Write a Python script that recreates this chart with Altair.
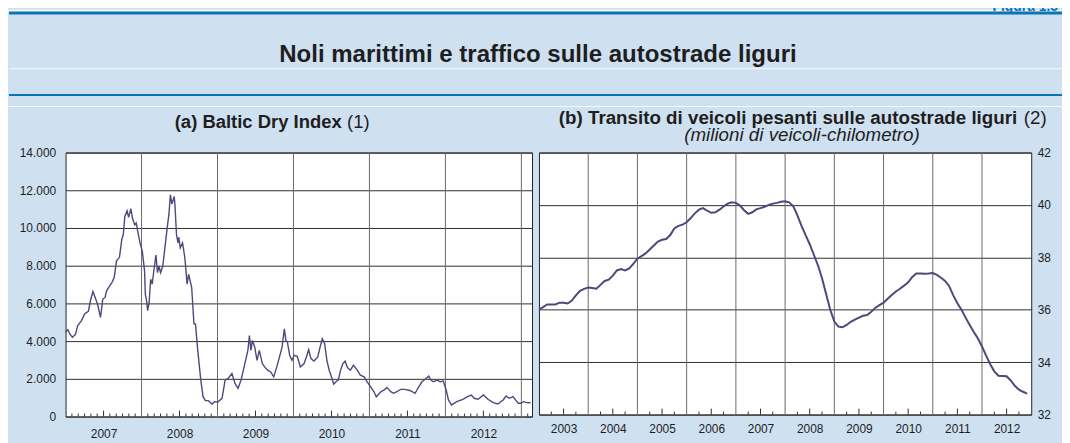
import altair as alt
import pandas as pd

# ---------------- data ----------------
# (a) Baltic Dry Index, decimal years and index values
bdi_time = [2007.00, 2007.03, 2007.06, 2007.09, 2007.13, 2007.16, 2007.21, 2007.25, 2007.30, 2007.33,
            2007.36, 2007.39, 2007.42, 2007.46, 2007.49, 2007.52, 2007.54, 2007.58, 2007.61, 2007.64,
            2007.67, 2007.71, 2007.74, 2007.76, 2007.78, 2007.81, 2007.83, 2007.86, 2007.88, 2007.91,
            2007.93, 2007.95, 2007.98, 2008.01, 2008.04, 2008.05, 2008.07, 2008.08, 2008.10, 2008.12,
            2008.14, 2008.17, 2008.19, 2008.21, 2008.23, 2008.25, 2008.28, 2008.31, 2008.34, 2008.36,
            2008.38, 2008.40, 2008.43, 2008.44, 2008.46, 2008.48, 2008.49, 2008.51, 2008.54, 2008.57,
            2008.60, 2008.62, 2008.66, 2008.69, 2008.71, 2008.74, 2008.78, 2008.81, 2008.84, 2008.88,
            2008.93, 2008.96, 2009.00, 2009.06, 2009.10, 2009.14, 2009.19, 2009.23, 2009.27, 2009.31,
            2009.36, 2009.40, 2009.42, 2009.44, 2009.46, 2009.49, 2009.52, 2009.55, 2009.59, 2009.62,
            2009.66, 2009.70, 2009.74, 2009.78, 2009.81, 2009.85, 2009.88, 2009.90, 2009.92, 2009.95,
            2009.98, 2010.01, 2010.05, 2010.09, 2010.14, 2010.17, 2010.20, 2010.23, 2010.27, 2010.32,
            2010.35, 2010.38, 2010.41, 2010.44, 2010.47, 2010.50, 2010.53, 2010.56, 2010.59, 2010.62,
            2010.65, 2010.68, 2010.71, 2010.75, 2010.79, 2010.84, 2010.88, 2010.93, 2010.97, 2011.02,
            2011.06, 2011.09, 2011.15, 2011.19, 2011.23, 2011.28, 2011.32, 2011.36, 2011.41, 2011.47,
            2011.54, 2011.60, 2011.65, 2011.69, 2011.73, 2011.78, 2011.81, 2011.84, 2011.89, 2011.93,
            2011.97, 2012.01, 2012.04, 2012.08, 2012.15, 2012.23, 2012.29, 2012.34, 2012.38, 2012.43,
            2012.50, 2012.56, 2012.63, 2012.69, 2012.76, 2012.80, 2012.84, 2012.89, 2012.93, 2012.96,
            2012.99, 2013.03, 2013.07, 2013.12]
bdi_value = [4474, 4600, 4352, 4211, 4352, 4826, 5089, 5442, 5579, 6179,
             6631, 6316, 5968, 5263, 6231, 6316, 6668, 6931, 7105, 7368,
             8247, 8458, 9389, 9652, 10615, 10915, 10563, 11020, 10526, 10179,
             10263, 9826, 9210, 8773, 7721, 6495, 6052, 5616, 6052, 7284,
             7021, 7984, 8563, 7631, 7984, 7631, 7984, 9036, 10089, 10705,
             11757, 11263, 11668, 11231, 9652, 9210, 9510, 8947, 9210, 8421,
             7021, 7547, 6842, 4916, 4916, 3510, 1932, 1053, 842, 842,
             668, 789, 760, 968, 1932, 2021, 2284, 1758, 1495, 1932,
             2811, 3510, 4300, 3510, 4037, 3684, 2984, 3510, 2811, 2632,
             2458, 2368, 2105, 2632, 3074, 3684, 4652, 4037, 3947, 3247,
             2984, 3247, 3195, 2632, 2811, 3158, 3547, 3074, 2947, 3158,
             3684, 4126, 3863, 2984, 2458, 2105, 1721, 1842, 1932, 2458,
             2811, 2947, 2600, 2458, 2721, 2458, 2195, 2105, 1842, 1547,
             1316, 1053, 1316, 1405, 1547, 1316, 1232, 1316, 1442, 1442,
             1368, 1232, 1579, 1842, 1968, 2142, 1932, 1842, 1932, 1842,
             1895, 1405, 879, 616, 789, 916, 1053, 1142, 968, 916,
             1142, 916, 737, 668, 879, 1089, 968, 1053, 842, 705,
             705, 790, 740, 730]

# (b) heavy vehicle transit, monthly Jan 2003 - Dec 2012 (millions of vehicle-km)
traffic_first_year = 2003
traffic_value = [36.00, 36.10, 36.20, 36.20, 36.20, 36.27, 36.27, 36.24, 36.35, 36.55, 36.72, 36.80,
                 36.85, 36.83, 36.80, 36.95, 37.10, 37.15, 37.30, 37.50, 37.55, 37.50, 37.58, 37.75,
                 37.95, 38.05, 38.15, 38.30, 38.45, 38.60, 38.67, 38.70, 38.85, 39.10, 39.20, 39.25,
                 39.34, 39.50, 39.68, 39.82, 39.88, 39.78, 39.70, 39.72, 39.82, 39.94, 40.05, 40.10,
                 40.08, 39.98, 39.80, 39.66, 39.72, 39.83, 39.88, 39.93, 40.00, 40.05, 40.08, 40.12,
                 40.14, 40.10, 39.95, 39.60, 39.20, 38.85, 38.50, 38.10, 37.70, 37.20, 36.60, 36.00,
                 35.55, 35.36, 35.33, 35.42, 35.54, 35.62, 35.70, 35.77, 35.80, 35.92, 36.08, 36.18,
                 36.27, 36.42, 36.56, 36.70, 36.80, 36.92, 37.05, 37.25, 37.38, 37.38, 37.37, 37.38,
                 37.40, 37.33, 37.22, 37.10, 36.90, 36.55, 36.25, 36.00, 35.70, 35.42, 35.15, 34.90,
                 34.60, 34.25, 33.92, 33.65, 33.48, 33.47, 33.46, 33.30, 33.10, 32.95, 32.87, 32.80]

left_years = [2007, 2008, 2009, 2010, 2011, 2012]
right_years = [2003, 2004, 2005, 2006, 2007, 2008, 2009, 2010, 2011, 2012]
left_y_ticks = [0, 2000, 4000, 6000, 8000, 10000, 12000, 14000]
right_y_ticks = [32, 34, 36, 38, 40, 42]

main_title = "Noli marittimi e traffico sulle autostrade liguri"
figure_label = "Figura 1.5"
title_a_bold = "(a) Baltic Dry Index"
title_a_note = "(1)"
title_b_bold = "(b) Transito di veicoli pesanti sulle autostrade liguri"
title_b_note = "(2)"
title_b_sub = "(milioni di veicoli-chilometro)"

# ---------------- styling ----------------
FONT = "Liberation Sans"
BG = "#cfe0f1"
BAND = "#0b74b8"
LINE = "#4b497c"
TXT = "#1e1e1e"
HGRID = "#2e2e2e"
VGRID = "#6a6a6a"
TFS_A = 18.6        # panel (a) title font size
TFS_B = 18.9        # panel (b) title font size

LW, LH = 470, 266   # left plot area
RW, RH = 496, 264   # right plot area
GAP = 7

bdi = pd.DataFrame({"t": bdi_time, "v": bdi_value})
traffic = pd.DataFrame({"t": [traffic_first_year + i / 12 for i in range(len(traffic_value))],
                        "v": traffic_value})

one = pd.DataFrame({"k": [0]})

def deco_rect(x1, x2, y1, y2, color, opacity=1.0):
    return alt.Chart(one).mark_rect(color=color, opacity=opacity).encode(
        x=alt.value(x1), x2=alt.value(x2), y=alt.value(y1), y2=alt.value(y2))

def label(text, x, y, size, weight="normal", style="normal", align="center", color=TXT):
    return alt.Chart(one).mark_text(text=text, font=FONT, fontSize=size, fontWeight=weight,
                                    fontStyle=style, align=align, baseline="alphabetic",
                                    color=color).encode(x=alt.value(x), y=alt.value(y))

# ---------------- left panel ----------------
lx = alt.Scale(domain=[2007, 2013.14], nice=False, zero=False)
ly = alt.Scale(domain=[0, 14000], nice=False)

left_year_lines = pd.DataFrame({"t": left_years[1:] + [2013]})
left_minor = pd.DataFrame({"t": [y + m / 12 for y in left_years + [2013] for m in range(1, 12)
                                 if m != 6 and y + m / 12 < 2013.14]})
left_mid = pd.DataFrame({"t": [y + 0.5 for y in left_years]})

left_axis_x = alt.Axis(values=[y + 0.5 for y in left_years], labelExpr="floor(datum.value)",
                       ticks=False, grid=False, domain=False, labelPadding=12, title=None)
left_axis_y = alt.Axis(values=left_y_ticks, labelExpr="replace(format(datum.value, ','), ',', '.')",
                       ticks=False, grid=True, gridColor=HGRID, gridWidth=1, domain=False,
                       labelPadding=10, title=None)

a_start = 110
decor = [
    deco_rect(-58, 1004, -144, -142, "white"),
    deco_rect(-57, 1004, -142, -139, BAND),
    deco_rect(-57, 1004, -85, -84, "white", 0.8),
    deco_rect(-57, 1004, -59, -57, BAND),
    deco_rect(-57, 1004, -47, -46, "white", 0.8),
    label(figure_label, 1000, -143, 14, weight="bold", align="right", color=BAND),
    label(main_title, 476, -91, 24.2, weight="bold"),
    label(title_a_bold, a_start, -25, TFS_A, weight="bold", align="left"),
    label(title_a_note, a_start + 9.336 * TFS_A, -25, TFS_A, align="left"),
]

left_vlines = alt.Chart(left_year_lines).mark_rule(color=VGRID, strokeWidth=1).encode(
    x=alt.X("t:Q", scale=lx, axis=left_axis_x), y=alt.value(0), y2=alt.value(LH))
left_minor_ticks = alt.Chart(left_minor).mark_rule(color=HGRID, strokeWidth=1).encode(
    x=alt.X("t:Q", scale=lx), y=alt.value(LH), y2=alt.value(LH - 3))
left_mid_ticks = alt.Chart(left_mid).mark_rule(color=HGRID, strokeWidth=1).encode(
    x=alt.X("t:Q", scale=lx), y=alt.value(LH), y2=alt.value(LH - 6))
left_line = alt.Chart(bdi).mark_line(color=LINE, strokeWidth=1.4).encode(
    x=alt.X("t:Q", scale=lx, axis=left_axis_x),
    y=alt.Y("v:Q", scale=ly, axis=left_axis_y))

left = alt.layer(*decor, left_vlines, left_minor_ticks, left_mid_ticks, left_line).properties(
    width=LW, height=LH)

# ---------------- right panel ----------------
rx = alt.Scale(domain=[2003, 2013], nice=False, zero=False)
ry = alt.Scale(domain=[32, 42], nice=False, zero=False)

right_year_lines = pd.DataFrame({"t": right_years[1:]})
right_minor = pd.DataFrame({"t": [y + q for y in right_years for q in (0.25, 0.75)]})
right_mid = pd.DataFrame({"t": [y + 0.5 for y in right_years]})

right_axis_x = alt.Axis(values=[y + 0.5 for y in right_years], labelExpr="floor(datum.value)",
                        ticks=False, grid=False, domain=False, labelPadding=9, title=None)
right_axis_y = alt.Axis(values=right_y_ticks, orient="right", ticks=False, grid=True,
                        gridColor=HGRID, gridWidth=1, domain=False, labelPadding=6, title=None)

b_start = 20
rtitles = [
    label(title_b_bold, b_start, -29, TFS_B, weight="bold", align="left"),
    label(title_b_note, b_start + 24.785 * TFS_B, -29, TFS_B, align="left"),
    label(title_b_sub, 265, -11.5, TFS_B, style="italic"),
]

right_vlines = alt.Chart(right_year_lines).mark_rule(color=VGRID, strokeWidth=1).encode(
    x=alt.X("t:Q", scale=rx, axis=right_axis_x), y=alt.value(0), y2=alt.value(RH))
right_minor_ticks = alt.Chart(right_minor).mark_rule(color=HGRID, strokeWidth=1).encode(
    x=alt.X("t:Q", scale=rx), y=alt.value(RH), y2=alt.value(RH - 3))
right_mid_ticks = alt.Chart(right_mid).mark_rule(color=HGRID, strokeWidth=1).encode(
    x=alt.X("t:Q", scale=rx), y=alt.value(RH), y2=alt.value(RH - 6))
right_line = alt.Chart(traffic).mark_line(color=LINE, strokeWidth=2).encode(
    x=alt.X("t:Q", scale=rx, axis=right_axis_x),
    y=alt.Y("v:Q", scale=ry, axis=right_axis_y))

right = alt.layer(*rtitles, right_vlines, right_minor_ticks, right_mid_ticks, right_line).properties(
    width=RW, height=RH)

chart = alt.hconcat(left, right, spacing=GAP, bounds="flush").properties(
    background=BG,
    autosize=alt.AutoSizeParams(type="none"),
    padding={"left": 58, "top": 144, "right": 1004, "bottom": 291},
).configure_view(
    fill="white", stroke="#222", strokeWidth=1
).configure_axis(
    labelFont=FONT, labelFontSize=12, labelColor=TXT
)

chart.save("out.html", embed_options={"renderer": "svg", "actions": False})
